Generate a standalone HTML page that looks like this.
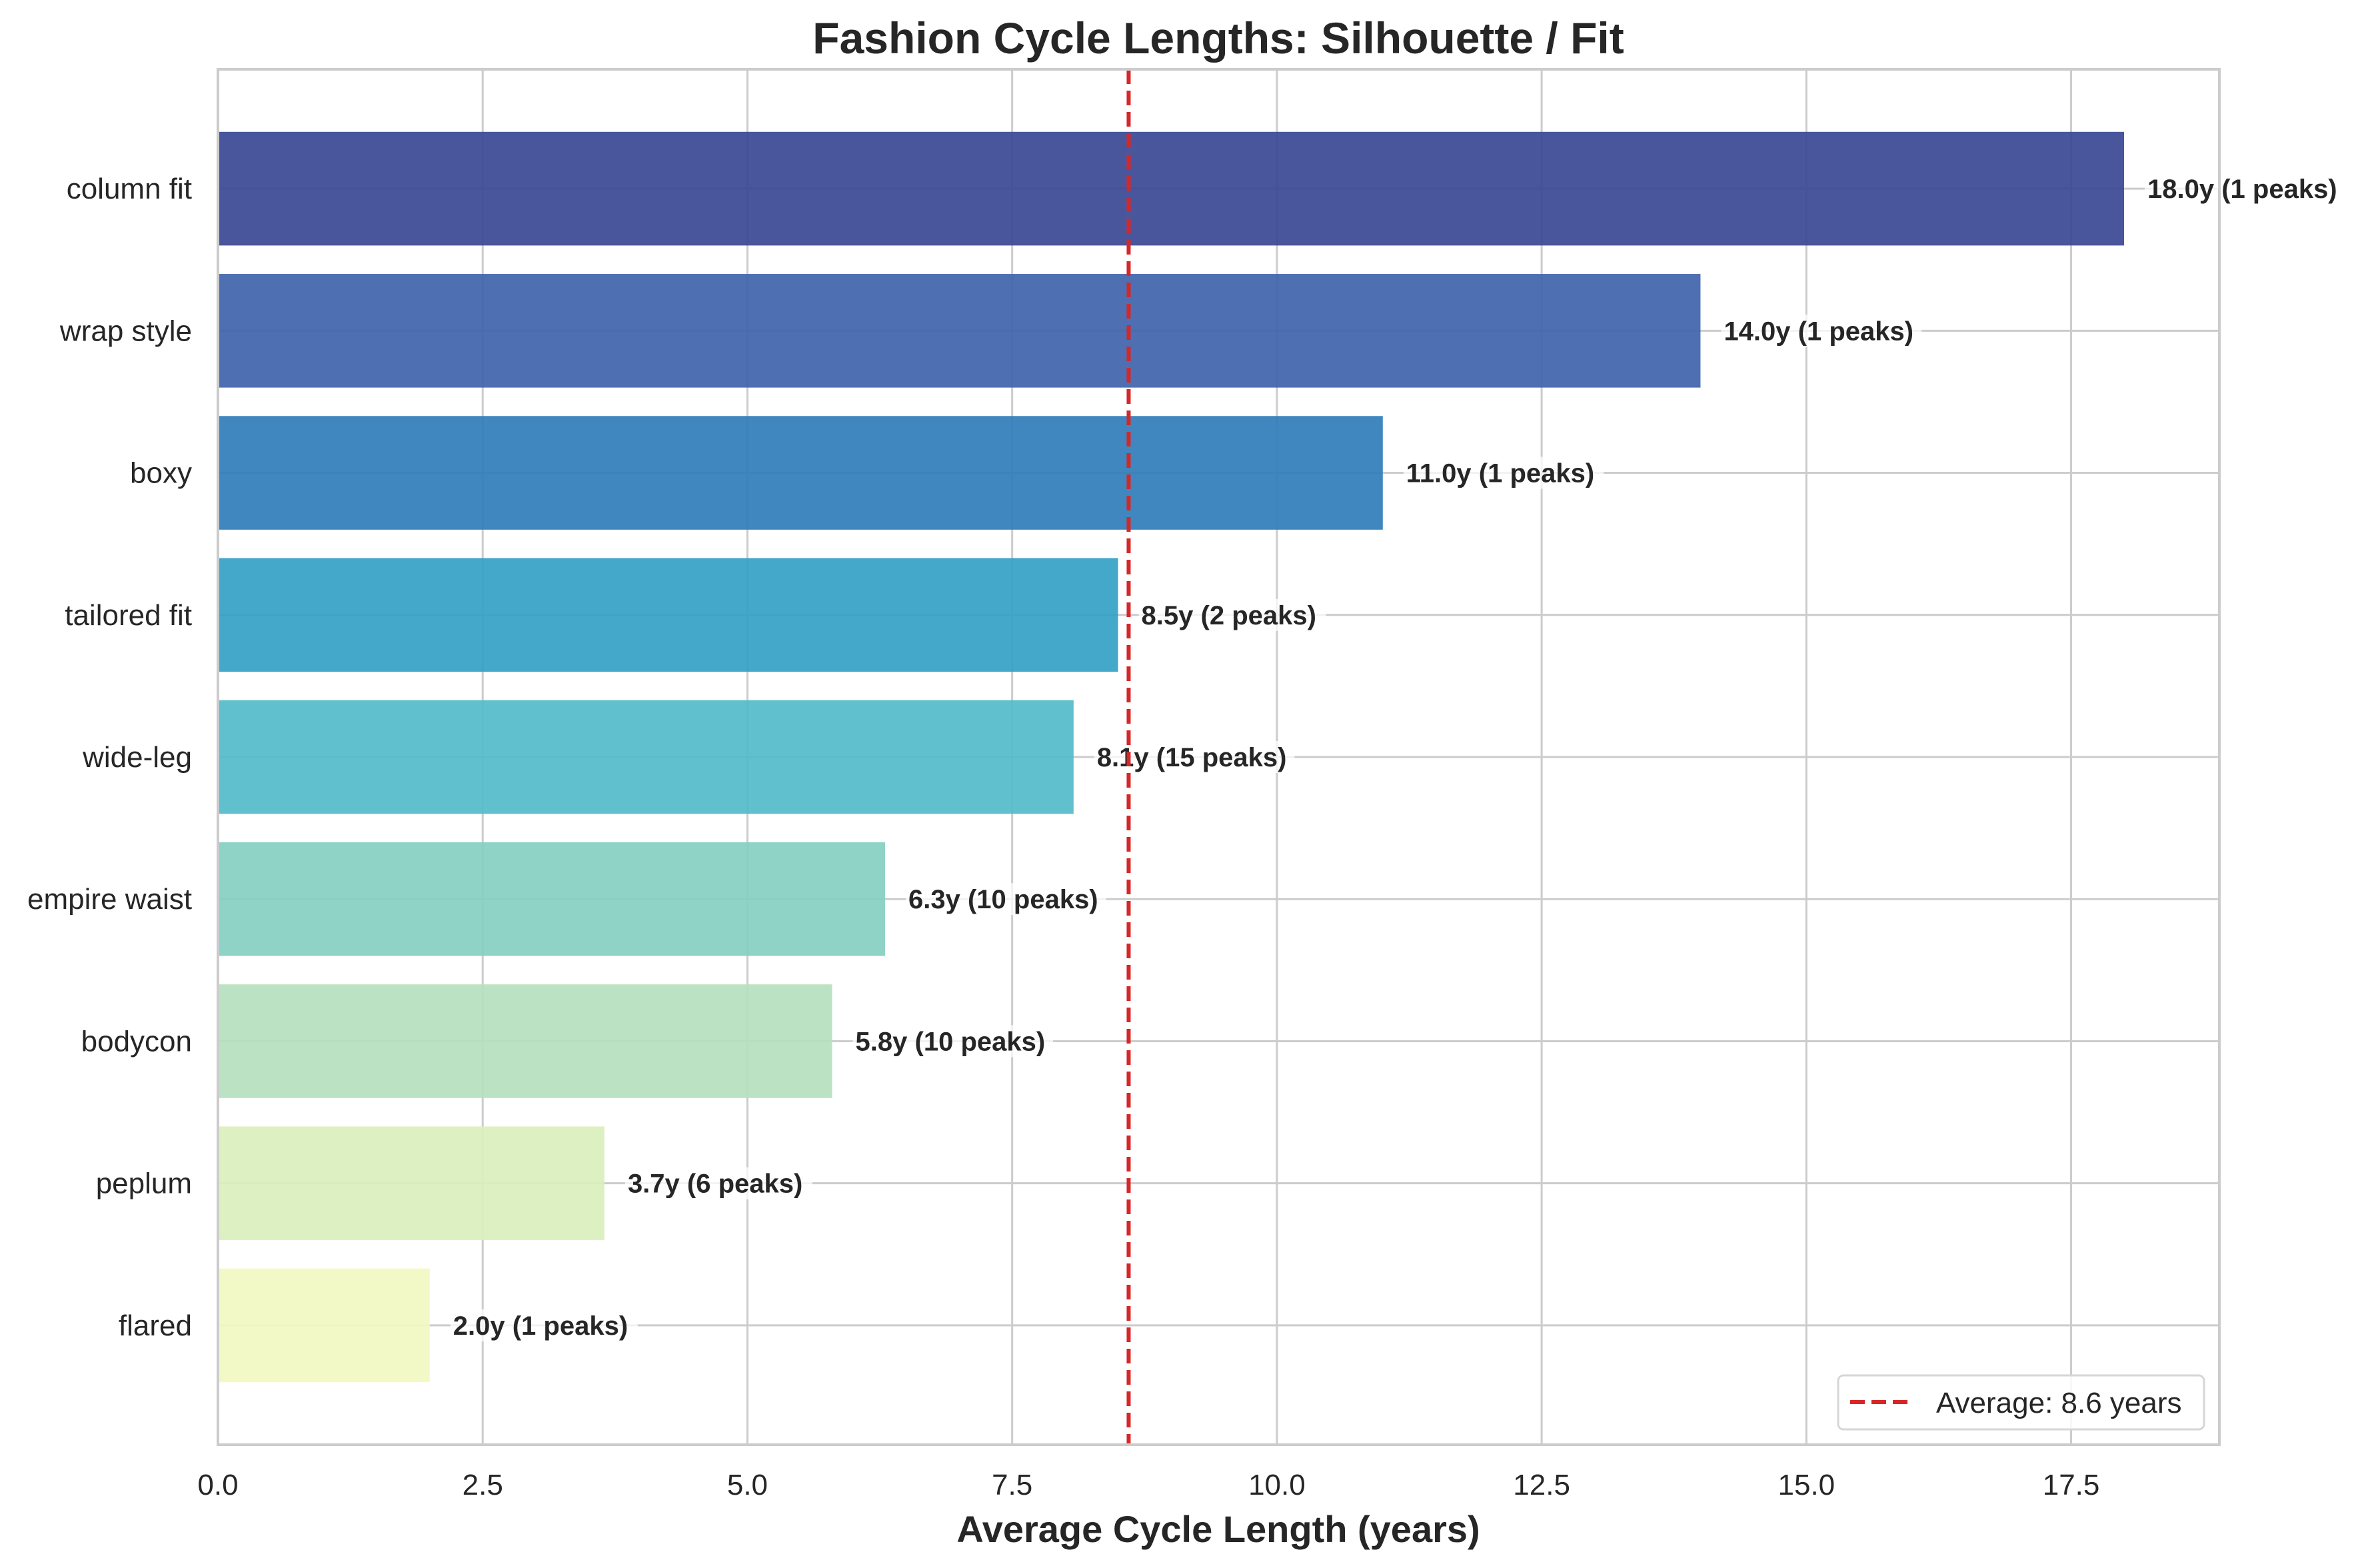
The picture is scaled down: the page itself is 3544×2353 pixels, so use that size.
<!DOCTYPE html>
<html><head><meta charset="utf-8"><style>
html,body{margin:0;padding:0;background:#fff;}
svg{display:block;font-family:"Liberation Sans",Arial,sans-serif;}
</style></head><body>
<svg id="chart" width="3544" height="2353" viewBox="0 0 3544 2353" xmlns="http://www.w3.org/2000/svg">
<rect width="3544" height="2353" fill="#fff"/>
<text x="1828" y="80" text-anchor="middle" font-size="66" font-weight="bold" fill="#262626">Fashion Cycle Lengths: Silhouette / Fit</text>
<g id="grid"></g><g id="bars"></g><g id="labels"></g><g id="ticks"></g>
<text x="1828" y="2314" text-anchor="middle" font-size="56" font-weight="bold" fill="#262626">Average Cycle Length (years)</text>
</svg>
<script>
const categories = ["column fit","wrap style","boxy","tailored fit","wide-leg","empire waist","bodycon","peplum","flared"];
const values = [18.0,14.0,11.0,8.5,8.08,6.3,5.8,3.65,2.0];
const peaks = [1,1,1,2,15,10,10,6,1];
const valueLabels = ["18.0y","14.0y","11.0y","8.5y","8.1y","6.3y","5.8y","3.7y","2.0y"];
const xTicks = [0,2.5,5,7.5,10,12.5,15,17.5];
const xTickLabels = ["0.0","2.5","5.0","7.5","10.0","12.5","15.0","17.5"];
const averageValue = 8.6;
const colors = ["#3a4894","#4063ad","#2f7db8","#33a1c6","#52bbca","#84cfc1","#b5e1be","#daefbd","#f1f9c2"];

const NS="http://www.w3.org/2000/svg";
const L=327,R=3330,T=104,B=2168;
const xMax=18.9;
const pad=0.84;
const x=v=>L+(v/xMax)*(R-L);
const step=(B-T)/(categories.length-1+2*pad);
const y=i=>T+step*(i+pad);
function mk(tag,attrs,parent){const e=document.createElementNS(NS,tag);for(const k in attrs)e.setAttribute(k,attrs[k]);parent.appendChild(e);return e;}
const grid=document.getElementById('grid'),bars=document.getElementById('bars'),labels=document.getElementById('labels'),ticks=document.getElementById('ticks');

xTicks.forEach((t,i)=>{
  const g=mk('line',{x1:x(t),x2:x(t),y1:T,y2:B,stroke:'#cccccc','stroke-width':3},grid);
  
  
  const tx=mk('text',{x:x(t),y:B+75,'text-anchor':'middle','font-size':44,fill:'#262626'},ticks);
  tx.textContent=xTickLabels[i];
  
  
});
categories.forEach((c,i)=>{
  const g=mk('line',{x1:L,x2:R,y1:y(i),y2:y(i),stroke:'#cccccc','stroke-width':3},grid);
  
  
  const tl=mk('text',{x:L-39,y:y(i)+15,'text-anchor':'end','font-size':44,fill:'#262626'},ticks);
  tl.textContent=c;
  
  
  const h=step*0.8;
  const b=mk('rect',{x:L,y:y(i)-h/2,width:x(values[i])-L,height:h,fill:colors[i],'fill-opacity':0.92},bars);
  
  
  const txt=valueLabels[i]+' ('+peaks[i]+' peaks)';
  const lx=x(values[i])+35;
  const bg=mk('rect',{x:lx-4,y:y(i)-24,width:txt.length*19.5+8,height:48,fill:'#fff','fill-opacity':0.75},labels);
  
  
  const vl=mk('text',{x:lx,y:y(i)+14,'font-size':40,'font-weight':'bold',fill:'#262626'},labels);
  vl.textContent=txt;
  
  
});
const avg=mk('line',{x1:x(averageValue),x2:x(averageValue),y1:T,y2:B,stroke:'#d62728','stroke-width':6,'stroke-dasharray':'22 10'},labels);


const frame=mk('rect',{x:L,y:T,width:R-L,height:B-T,fill:'none',stroke:'#cccccc','stroke-width':4},labels);


const lg=mk('g',{},labels);


const lb=mk('rect',{x:2758,y:2064,width:549,height:81,rx:8,fill:'#fff','fill-opacity':0.85,stroke:'#d6d6d6','stroke-width':3},lg);


const ll=mk('line',{x1:2776,x2:2868,y1:2104,y2:2104,stroke:'#d62728','stroke-width':6,'stroke-dasharray':'22 10'},lg);


const lt=mk('text',{x:2905,y:2120,'font-size':44,fill:'#262626'},lg);
lt.textContent='Average: '+averageValue.toFixed(1)+' years';


</script>
</body></html>
